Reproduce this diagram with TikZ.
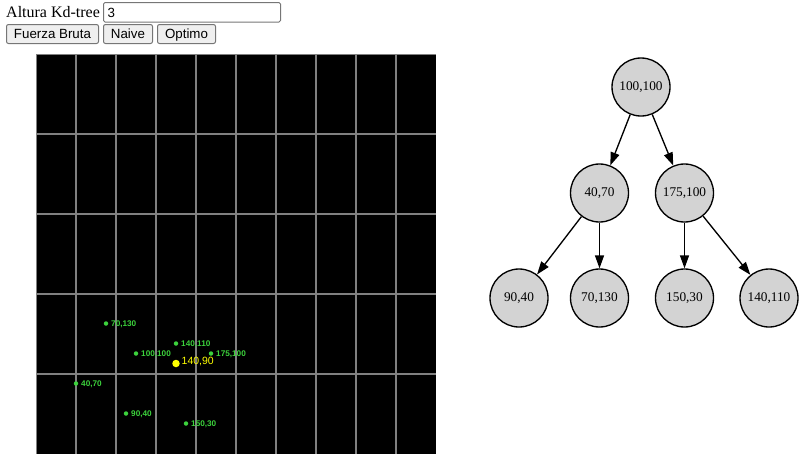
\documentclass[tikz,border=0pt]{standalone}
\usepackage{fontspec}
\setmainfont{Liberation Serif}
\newfontfamily\arialf{Liberation Sans}
\usetikzlibrary{arrows.meta}
\definecolor{btnfill}{HTML}{EFEFEF}
\definecolor{btnline}{HTML}{767676}
\definecolor{gridc}{HTML}{808080}
\definecolor{ptgreen}{HTML}{3CD23C}
\definecolor{ptyellow}{HTML}{FFFF00}
\definecolor{nodefill}{HTML}{D3D3D3}
\tikzset{
  btn/.style={draw=btnline, fill=btnfill, line width=1pt, rounded corners=2pt, inner sep=0pt,
    font=\arialf\fontsize{13.33}{15}\selectfont, text=black},
  gdot/.style={circle, fill=ptgreen, inner sep=0pt, minimum size=4.5pt},
  ydot/.style={circle, fill=ptyellow, inner sep=0pt, minimum size=7.5pt},
  glabel/.style={anchor=base west, inner sep=0pt, text=ptgreen, font=\arialf\bfseries\fontsize{8.2}{9}\selectfont},
  ylabel/.style={anchor=base west, inner sep=0pt, text=ptyellow, font=\arialf\fontsize{10.5}{12}\selectfont},
  tn/.style={circle, draw=black, fill=nodefill, line width=1.33pt, minimum size=58pt, inner sep=0pt,
    font=\fontsize{13.3}{15}\selectfont},
  edge/.style={draw=black, line width=1.33pt, -{Triangle[length=13pt,width=9pt]}}
}
\begin{document}
\begin{tikzpicture}[x=1pt,y=-1pt]
\useasboundingbox (0,0) rectangle (810,464);

% top controls
\node[anchor=base west, inner sep=0pt, font=\fontsize{16}{19}\selectfont] (lbl) at (6,17) {Altura Kd-tree};
\draw[btnline, line width=1pt, rounded corners=1.5pt] (103.5,2.5) rectangle (280.5,22) coordinate (inpc);
\node[anchor=base west, inner sep=0pt, font=\arialf\fontsize{13.33}{15}\selectfont] (inp) at (107.5,17) {3};

\draw[btn] (6.5,24.5) rectangle (98.5,43.5);
\node[anchor=base, inner sep=0pt, font=\arialf\fontsize{13.33}{15}\selectfont] (b1) at (52.5,38) {Fuerza Bruta};
\draw[btn] (103.5,24.5) rectangle (152.5,43.5);
\node[anchor=base, inner sep=0pt, font=\arialf\fontsize{13.33}{15}\selectfont] (b2) at (128,38) {Naive};
\draw[btn] (157.5,24.5) rectangle (215.5,43.5);
\node[anchor=base, inner sep=0pt, font=\arialf\fontsize{13.33}{15}\selectfont] (b3) at (186.5,38) {Optimo};

% canvas
\fill[black] (36,54) rectangle (436,454);
\begin{scope}
\clip (36,54) rectangle (436,454);
\foreach \i in {0,...,9} \draw[gridc, line width=2pt] (36+40*\i,54) -- (36+40*\i,454);
\foreach \j in {0,...,4} \draw[gridc, line width=2pt] (36,54+80*\j) -- (436,54+80*\j);
\end{scope}

% points
\node[gdot] (p1) at (136,353.5) {};
\node[glabel] (l1) at (141,356) {100,100};
\node[gdot] (p2) at (76,383.5) {};
\node[glabel] (l2) at (81,386) {40,70};
\node[gdot] (p3) at (211,353.5) {};
\node[glabel] (l3) at (216,356) {175,100};
\node[gdot] (p4) at (126,413.5) {};
\node[glabel] (l4) at (131,416) {90,40};
\node[gdot] (p5) at (106,323.5) {};
\node[glabel] (l5) at (111,326) {70,130};
\node[gdot] (p6) at (186,423.5) {};
\node[glabel] (l6) at (191,426) {150,30};
\node[gdot] (p7) at (176,343.5) {};
\node[glabel] (l7) at (181,346) {140,110};
\node[ydot] (q) at (176,363.5) {};
\node[ylabel] (ql) at (181.5,364.5) {140,90};

% tree
\node[tn] (t1) at (641,87) {100,100};
\node[tn] (t2) at (599.5,193) {40,70};
\node[tn] (t3) at (684.5,193) {175,100};
\node[tn] (t4) at (519,298) {90,40};
\node[tn] (t5) at (599.5,298) {70,130};
\node[tn] (t6) at (684.5,298) {150,30};
\node[tn] (t7) at (769,298) {140,110};
\draw[edge] (t1) -- (t2);
\draw[edge] (t1) -- (t3);
\draw[edge] (t2) -- (t4);
\draw[edge] (t2) -- (t5);
\draw[edge] (t3) -- (t6);
\draw[edge] (t3) -- (t7);
\end{tikzpicture}
\end{document}
